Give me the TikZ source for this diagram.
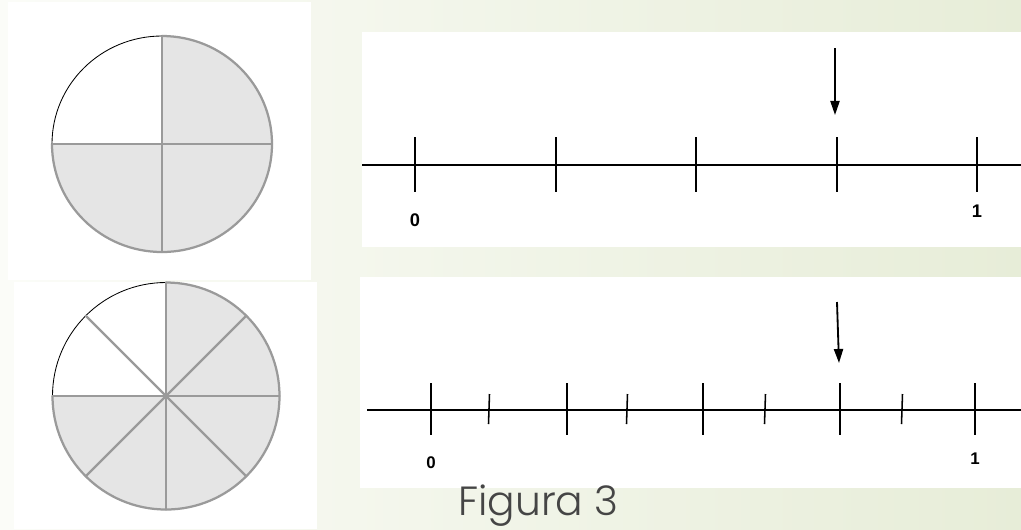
\documentclass[tikz,border=0pt]{standalone}
\usepackage{fontspec}
\setsansfont{Liberation Sans}
\newfontfamily\captionfont{Poppins Light}
\usetikzlibrary{arrows.meta,positioning}
\definecolor{slidecream}{HTML}{FBFCF8}
\definecolor{slidegreen}{HTML}{E7EDD8}
\definecolor{piegray}{HTML}{E5E5E5}
\definecolor{rimgray}{HTML}{9A9A9A}
\definecolor{captiongray}{HTML}{454545}

\begin{document}
\begin{tikzpicture}[x=0.025cm, y=0.025cm,
		panel/.style={fill=white, draw=none},
		rim/.style={draw=rimgray, line width=1.6pt, line cap=round},
		edge/.style={draw=black, line width=0.6pt},
		axisline/.style={line width=1.4pt},
		bigtick/.style={line width=1.2pt},
		smalltick/.style={line width=1.1pt},
		pointer/.style={line width=1.3pt, -{Triangle[length=10pt, width=6.5pt]}},
		numlabel/.style={font=\sffamily\bfseries\fontsize{13}{15}\selectfont},
		numlabelsmall/.style={font=\sffamily\bfseries\fontsize{12}{14}\selectfont}
	]
	\useasboundingbox (0,0) rectangle (1021,-529);
	\shade[left color=slidecream, right color=slidegreen] (0,0) rectangle (1021,-529);

	% white panels
	\fill[panel] (8,-2) rectangle (311,-280);
	\fill[panel] (14,-282) rectangle (317,-529);
	\fill[panel] (362,-32) rectangle (1021,-247);
	\fill[panel] (360,-277) rectangle (1021,-488);

	% quarters
	\coordinate (pieA) at (162,-144);
	\fill[piegray] (pieA) circle[x radius=110, y radius=108];
	\fill[white] (pieA) -- ++(0,108) arc[start angle=90, end angle=180, x radius=110, y radius=108] -- cycle;
	\draw[rim] (pieA) ++(0,108) arc[start angle=90, end angle=-180, x radius=110, y radius=108];
	\draw[edge] (pieA) ++(0,108) arc[start angle=90, end angle=180, x radius=110, y radius=108];
	\foreach \a in {0,90,180,270}
		\draw[rim] (pieA) -- ++(\a:{110*abs(cos(\a))+108*abs(sin(\a))});

	% eighths
	\coordinate (pieB) at (166,-396);
	\fill[piegray] (pieB) circle[radius=113.5];
	\fill[white] (pieB) -- ++(90:113.5) arc[start angle=90, end angle=180, radius=113.5] -- cycle;
	\draw[rim] (pieB) ++(90:113.5) arc[start angle=90, end angle=-180, radius=113.5];
	\draw[edge] (pieB) ++(90:113.5) arc[start angle=90, end angle=180, radius=113.5];
	\foreach \a in {0,45,...,315}
		\draw[rim] (pieB) -- ++(\a:113.5);

	% number line in quarters
	\coordinate (lineAstart) at (362,-165);
	\coordinate (lineAend) at (1021,-165);
	\draw[axisline] (lineAstart) -- (lineAend);
	\foreach \x [count=\i] in {415,556,696,837,977}
		\draw[bigtick] (\x,-137) coordinate (tickA\i) -- (\x,-192);
	\node[numlabel] (zeroA) at (415,-220) {0};
	\node[numlabel] (oneA) at (977,-211) {1};
	\coordinate (arrA) at (835,-48);
	\coordinate (tipA) at (835,-115);
	\draw[pointer] (arrA) -- (tipA);

	% number line in eighths
	\coordinate (lineBstart) at (367,-410);
	\coordinate (lineBend) at (1021,-410);
	\draw[axisline] (lineBstart) -- (lineBend);
	\foreach \x [count=\i] in {431,567,703,840,975}
		\draw[bigtick] (\x,-383) coordinate (tickB\i) -- (\x,-435);
	\foreach \x [count=\i] in {489,627,765,902}
		\draw[smalltick] (\x+0.5,-394) coordinate (halfB\i) -- (\x-0.5,-424);
	\node[numlabelsmall] (zeroB) at (431,-463) {0};
	\node[numlabelsmall] (oneB) at (975,-459) {1};
	\coordinate (arrB) at (837,-302);
	\coordinate (tipB) at (839,-363);
	\draw[pointer] (arrB) -- (tipB);

	\node[anchor=base west, inner sep=0pt, text=captiongray, font=\captionfont\fontsize{29}{33}\selectfont] (caption) at (458,-515) {Figura 3};
\end{tikzpicture}
\end{document}
